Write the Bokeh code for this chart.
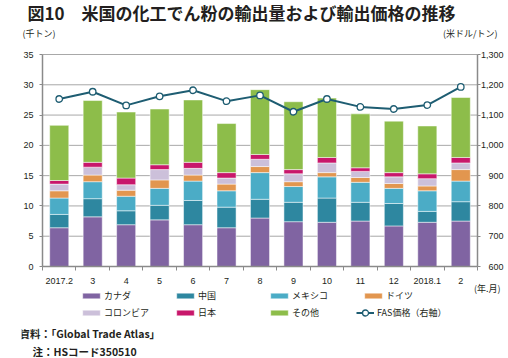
from bokeh.plotting import figure
from bokeh.models import (Range1d, LinearAxis, FixedTicker, NumeralTickFormatter,
                          Label, Legend, LegendItem, ColumnDataSource)
from bokeh.embed import file_html
from bokeh.resources import INLINE

months = ["2017.2", "3", "4", "5", "6", "7", "8", "9", "10", "11", "12", "2018.1", "2"]
canada   = [6.4, 8.2, 6.9, 7.7, 6.9, 6.4, 8.0, 7.4, 7.3, 7.5, 6.7, 7.3, 7.5]
china    = [2.2, 3.0, 2.3, 2.4, 4.0, 3.4, 3.1, 3.2, 4.0, 3.1, 3.7, 1.8, 3.2]
mexico   = [2.7, 2.8, 2.4, 2.8, 3.2, 2.7, 4.4, 2.6, 3.5, 3.3, 2.5, 3.4, 3.4]
germany  = [1.2, 1.1, 1.0, 1.4, 1.0, 1.1, 1.0, 0.8, 0.7, 0.8, 0.8, 0.8, 1.9]
colombia = [1.1, 1.3, 0.9, 1.7, 1.1, 1.0, 1.2, 1.3, 1.6, 1.0, 1.1, 1.2, 1.1]
japan    = [0.6, 0.8, 1.1, 0.8, 1.0, 0.9, 0.8, 0.7, 0.9, 0.6, 0.7, 0.8, 0.9]
others   = [9.1, 10.2, 10.9, 9.2, 10.3, 8.1, 10.7, 11.2, 9.8, 8.9, 8.5, 7.9, 9.9]
fas_price = [1153, 1177, 1132, 1162, 1182, 1146, 1165, 1111, 1153, 1127, 1120, 1133, 1193]

series_keys = ["canada", "china", "mexico", "germany", "colombia", "japan", "others"]
series_names = ["カナダ", "中国", "メキシコ", "ドイツ", "コロンビア", "日本", "その他"]
colors = ["#8064a2", "#2e87a0", "#4bacc6", "#e2964f", "#ccc0da", "#c8176b", "#8dbd4a"]
line_color = "#1e5d72"
price_label = "FAS価格（右軸）"

left_ticks = [0, 5, 10, 15, 20, 25, 30, 35]
right_ticks = [600, 700, 800, 900, 1000, 1100, 1200, 1300]

title_text = "図10　米国の化工でん粉の輸出量および輸出価格の推移"
left_unit = "(千トン)"
right_unit = "(米ドル/トン)"
x_unit = "(年.月)"
source_note = "資料：「Global Trade Atlas」"
hs_note = "注：HSコード350510"

JP = "Noto Sans CJK JP"
TXT = "#231f20"
AX = "#8a8a8a"
W, H = 508, 358

# frame (canvas px) and plotting area (canvas px)
FL, FR, FT, FB = 21, 508, 0, 358
X0, X1, Y0, Y1 = 42, 477, 266, 54

n = len(months)
lmin, lmax = left_ticks[0], left_ticks[-1]
rmin, rmax = right_ticks[0], right_ticks[-1]
ppx = (X1 - X0) / n
ppy = (Y0 - Y1) / (lmax - lmin)
ppr = (Y0 - Y1) / (rmax - rmin)

x_range = Range1d(-0.5 - (X0 - FL) / ppx, n - 0.5 + (FR - X1) / ppx)
y_range = Range1d(lmin - (FB - Y0) / ppy, lmax + (Y1 - FT) / ppy)
r_range = Range1d(rmin - (FB - Y0) / ppr, rmax + (Y1 - FT) / ppr)

xs = list(range(n))
src = ColumnDataSource(dict(x=xs, canada=canada, china=china, mexico=mexico,
                            germany=germany, colombia=colombia, japan=japan,
                            others=others, price=fas_price))

p = figure(width=W, height=H, output_backend="svg", toolbar_location=None,
           x_range=x_range, y_range=y_range, title=None, x_axis_location="above",
           min_border_left=FL, min_border_right=W - FR, min_border_top=FT,
           min_border_bottom=H - FB)
p.outline_line_color = None
p.background_fill_color = "white"
p.border_fill_color = "white"
p.extra_y_ranges = {"price": r_range}
p.grid.visible = False

# horizontal grid lines across the plotting area only
grid_vals = left_ticks[1:]
p.segment(x0=[-0.5] * len(grid_vals), x1=[n - 0.5] * len(grid_vals),
          y0=grid_vals, y1=grid_vals, line_color="#a8a8a8", line_width=1,
          level="underlay")

bars = p.vbar_stack(series_keys, x="x", width=0.57, source=src, color=colors,
                    line_color="white", line_width=0.5)
ln = p.line("x", "price", source=src, y_range_name="price", line_color=line_color, line_width=2)
sc = p.scatter("x", "price", source=src, y_range_name="price", size=6.5,
               fill_color="white", line_color=line_color, line_width=1.3)

# category axis drawn at value 0, labels pushed below the axis line
xa = p.xaxis[0]
xa.fixed_location = lmin
xa.bounds = (-0.5, n - 0.5)
xa.ticker = FixedTicker(ticks=xs, minor_ticks=[i - 0.5 for i in range(n + 1)])
xa.major_label_overrides = {i: m for i, m in enumerate(months)}
xa.major_tick_out = 0
xa.major_tick_in = 0
xa.minor_tick_out = 0
xa.minor_tick_in = 4
xa.minor_tick_line_color = AX
xa.axis_line_color = AX
xa.axis_line_width = 1.5
xa.major_label_text_font = "Liberation Sans"
xa.major_label_text_font_size = "9px"
xa.major_label_text_color = TXT
xa.major_label_standoff = -17

ya = p.yaxis[0]
ya.fixed_location = -0.5
ya.bounds = (lmin, lmax)
ya.ticker = FixedTicker(ticks=left_ticks)
ya.minor_tick_line_color = None
ya.major_tick_out = 3
ya.major_tick_in = 0
ya.major_tick_line_color = AX
ya.axis_line_color = AX
ya.axis_line_width = 1.5
ya.major_label_text_font = "Liberation Sans"
ya.major_label_text_font_size = "9px"
ya.major_label_text_color = TXT
ya.major_label_standoff = 6

# price axis at the right edge of the bars; labels pushed to its right side
ra = LinearAxis(y_range_name="price", ticker=FixedTicker(ticks=right_ticks),
                formatter=NumeralTickFormatter(format="0,0"))
ra.fixed_location = n - 0.5
ra.bounds = (rmin, rmax)
ra.minor_tick_line_color = None
ra.major_tick_out = 0
ra.major_tick_in = 3
ra.major_tick_line_color = AX
ra.axis_line_color = AX
ra.axis_line_width = 1.5
ra.major_label_text_font = "Liberation Sans"
ra.major_label_text_font_size = "9px"
ra.major_label_text_color = TXT
ra.major_label_standoff = -26
p.add_layout(ra, "left")

# legends (inside the frame, below the plotting area)
leg1 = Legend(items=[LegendItem(label=nm, renderers=[r]) for nm, r in zip(series_names, bars)],
              location=(80 - FL, FB - 319.5), orientation="horizontal", ncols=4,
              glyph_width=22, glyph_height=7, label_standoff=2, label_width=68,
              label_height=15, spacing=2, padding=0, margin=0,
              border_line_color=None, background_fill_alpha=0,
              label_text_font=JP, label_text_font_size="9px", label_text_color=TXT)
leg2 = Legend(items=[LegendItem(label=price_label, renderers=[ln, sc])],
              location=(356 - FL, FB - 319.5), orientation="horizontal",
              glyph_width=18, glyph_height=15, label_standoff=3, label_width=60,
              label_height=15, spacing=0, padding=0, margin=0,
              border_line_color=None, background_fill_alpha=0,
              label_text_font=JP, label_text_font_size="9px", label_text_color=TXT)
p.add_layout(leg1, "center")
p.add_layout(leg2, "center")


def lab(text, px, py, size, align="left", style="normal"):
    # position given in canvas pixels, converted through the chart's own scales
    p.add_layout(Label(x=(px - X0) / ppx - 0.5, y=lmin + (Y0 - py) / ppy,
                       text=text, text_font=JP, text_font_size=size,
                       text_font_style=style, text_color=TXT,
                       text_align=align, text_baseline="middle"))


lab(title_text, 27, 12, "17px", style="bold")
lab(left_unit, FL + 1, 33, "9px")
lab(right_unit, 497, 33, "9px", align="right")
lab(x_unit, 500, 288, "9px", align="right")
lab(source_note, FL - 2, 333, "10.5px", style="bold")
lab(hs_note, 32, 351, "10.5px", style="bold")

open("out.html", "w").write(file_html(p, INLINE))
